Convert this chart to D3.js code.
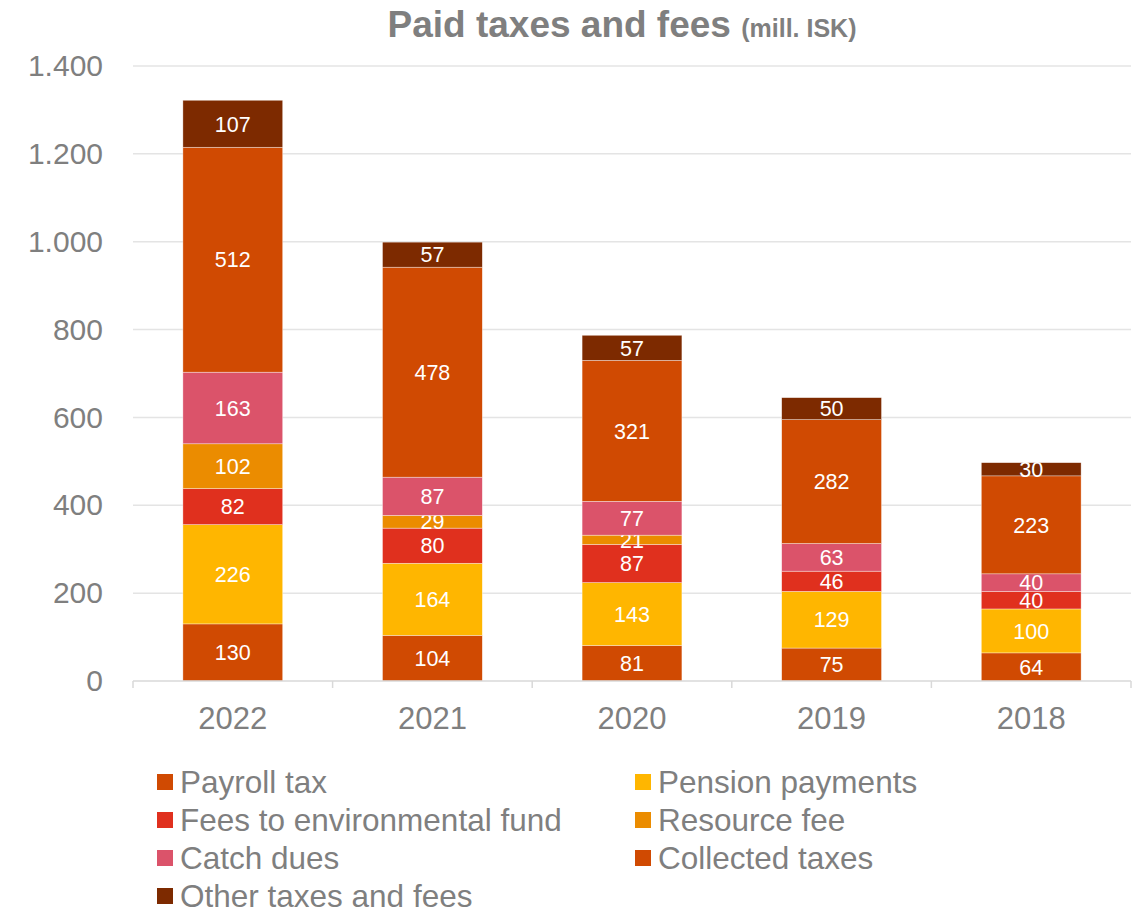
<!DOCTYPE html>
<html>
<head>
<meta charset="utf-8">
<script src="https://cdn.jsdelivr.net/npm/d3@7"></script>
<style>
  html, body { margin: 0; padding: 0; background: #fff; }
  svg { display: block; font-family: "Liberation Sans", Arial, sans-serif; }
</style>
</head>
<body>
<svg id="chart" width="1138" height="911"></svg>
<script>
// Years shown on the x axis (newest first)
const years = ["2022", "2021", "2020", "2019", "2018"];

// Series, in stacking order from the bottom up (mill. ISK)
const seriesNames = [
  "Payroll tax",
  "Pension payments",
  "Fees to environmental fund",
  "Resource fee",
  "Catch dues",
  "Collected taxes",
  "Other taxes and fees"
];
const payrollTax      = [130, 104,  81,  75,  64];
const pensionPayments = [226, 164, 143, 129, 100];
const envFundFees     = [ 82,  80,  87,  46,  40];
const resourceFee     = [102,  29,  21,   0,   0];
const catchDues       = [163,  87,  77,  63,  40];
const collectedTaxes  = [512, 478, 321, 282, 223];
const otherTaxes      = [107,  57,  57,  50,  30];

const seriesColors = ["#D04A02", "#FFB600", "#E0301E", "#EB8C00", "#DB536A", "#D04A02", "#7D2A00"];

const yTicks = [0, 200, 400, 600, 800, 1000, 1200, 1400];
const fmt = d3.formatLocale({ decimal: ",", thousands: ".", grouping: [3] }).format(",d");

const seriesValues = [payrollTax, pensionPayments, envFundFees, resourceFee, catchDues, collectedTaxes, otherTaxes];
const rows = years.map((y, i) => {
  const r = { year: y };
  seriesNames.forEach((s, k) => { r[s] = seriesValues[k][i]; });
  return r;
});

const svg = d3.select("#chart");
const margin = { left: 133, right: 7, top: 66, bottom: 230 };
const W = 1138, H = 911;

const x = d3.scaleBand().domain(years)
  .range([margin.left, W - margin.right])
  .paddingInner(0.5).paddingOuter(0.25);
const y = d3.scaleLinear().domain([0, 1400]).range([H - margin.bottom, margin.top]);

const gray = "#7F7F7F";

// Horizontal gridlines
svg.append("g").selectAll("line").data(yTicks.filter(d => d > 0)).join("line")
  .attr("x1", margin.left).attr("x2", W - margin.right)
  .attr("y1", d => y(d)).attr("y2", d => y(d))
  .attr("stroke", "#E4E4E4").attr("stroke-width", 1.5);

// Y axis labels
const yAxis = svg.append("g")
  .attr("transform", `translate(${margin.left},0)`)
  .call(d3.axisLeft(y).tickValues(yTicks).tickFormat(fmt).tickSize(0).tickPadding(30));
yAxis.select(".domain").remove();
yAxis.selectAll("text").attr("fill", gray).attr("font-size", 30)
  .attr("font-family", "Liberation Sans, Arial, sans-serif");

// Stacked bars
const stack = d3.stack().keys(seriesNames);
const stacked = stack(rows);

const layers = svg.append("g").selectAll("g").data(stacked).join("g")
  .attr("fill", (d, i) => seriesColors[i]);

layers.selectAll("rect").data(d => d.filter(p => p[1] - p[0] > 0)).join("rect")
  .attr("x", d => x(d.data.year))
  .attr("width", x.bandwidth())
  .attr("y", d => y(d[1]))
  .attr("height", d => y(d[0]) - y(d[1]))
  .attr("stroke", "rgba(255,255,255,0.6)")
  .attr("stroke-width", 0.6);

// Value labels centred in each segment
layers.selectAll("text").data(d => d.filter(p => p[1] - p[0] > 0)).join("text")
  .attr("x", d => x(d.data.year) + x.bandwidth() / 2)
  .attr("y", d => (y(d[0]) + y(d[1])) / 2)
  .attr("dy", "0.36em")
  .attr("text-anchor", "middle")
  .attr("fill", "#fff")
  .attr("font-size", 21.5)
  .text(d => fmt(d[1] - d[0]));

// X axis baseline and category ticks
const xAxisG = svg.append("g").attr("transform", `translate(0,${y(0)})`);
xAxisG.append("line")
  .attr("x1", margin.left).attr("x2", W - margin.right)
  .attr("stroke", "#D9D9D9").attr("stroke-width", 1.5);
const step = x.step();
const bounds = d3.range(years.length + 1).map(i => margin.left + i * step);
xAxisG.selectAll("line.tick").data(bounds).join("line").attr("class", "tick")
  .attr("x1", d => d).attr("x2", d => d).attr("y1", 0).attr("y2", 7)
  .attr("stroke", "#D9D9D9").attr("stroke-width", 1.5);
xAxisG.selectAll("text").data(years).join("text")
  .attr("x", d => x(d) + x.bandwidth() / 2)
  .attr("y", 48)
  .attr("text-anchor", "middle")
  .attr("fill", gray)
  .attr("font-size", 31)
  .text(d => d);

// Title
const title = svg.append("text")
  .attr("x", 622).attr("y", 37)
  .attr("text-anchor", "middle")
  .attr("fill", gray)
  .attr("font-weight", "bold");
title.append("tspan").attr("font-size", 37).text("Paid taxes and fees ");
title.append("tspan").attr("font-size", 25).text("(mill. ISK)");

// Legend in two columns
const legend = svg.append("g");
const legendItems = legend.selectAll("g").data(seriesNames).join("g")
  .attr("transform", (d, i) => `translate(${i % 2 === 0 ? 157 : 635},${782 + Math.floor(i / 2) * 38})`);
legendItems.append("rect")
  .attr("x", 0).attr("y", -8).attr("width", 16).attr("height", 16)
  .attr("fill", (d, i) => seriesColors[i]);
legendItems.append("text")
  .attr("x", 23).attr("y", 0).attr("dy", "0.36em")
  .attr("fill", gray).attr("font-size", 31.5)
  .text(d => d);
</script>
</body>
</html>
